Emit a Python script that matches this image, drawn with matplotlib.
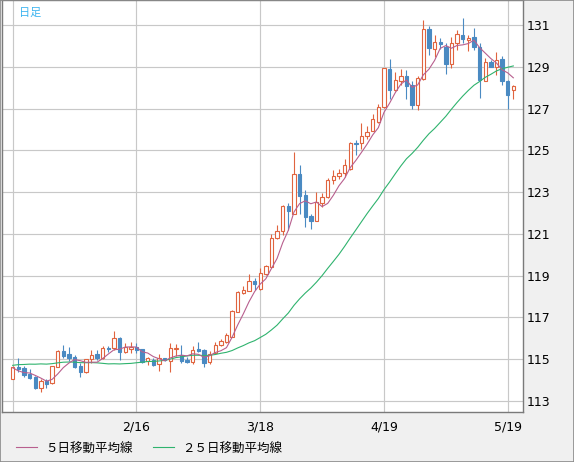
import numpy as np
import pandas as pd
import matplotlib
matplotlib.use("Agg")
import matplotlib.pyplot as plt
from matplotlib.lines import Line2D
from matplotlib.patches import Rectangle

# ---- data (daily candles, 1/17 .. 5/20) ----
opens = [114.07, 114.64, 114.56, 114.29, 114.16, 113.61, 113.97, 113.84, 114.64, 115.39,
         115.25, 115.09, 114.67, 114.40, 114.99, 115.25, 115.07, 115.55, 115.52, 116.03,
         115.33, 115.49, 115.57, 115.47, 114.91, 114.96, 114.75, 115.06, 114.91, 115.47,
         115.22, 114.98, 114.87, 115.47, 115.43, 114.87, 115.30, 115.66, 115.82, 116.08,
         117.28, 118.16, 118.29, 118.74, 118.36, 119.10, 119.44, 120.79, 121.16, 122.33,
         121.98, 123.89, 122.86, 121.86, 121.63, 122.49, 122.75, 123.57, 123.76, 123.92,
         124.13, 125.38, 125.37, 125.69, 125.93, 126.36, 127.08, 128.90, 127.91, 128.35,
         128.55, 128.15, 127.19, 128.42, 130.81, 129.87, 130.19, 129.95, 129.14, 130.17,
         130.54, 130.30, 130.46, 129.95, 128.35, 129.26, 129.02, 129.37, 128.34, 127.91]
highs = [114.66, 115.06, 114.67, 114.53, 114.18, 114.07, 114.07, 114.69, 115.44, 115.68,
         115.60, 115.20, 114.83, 115.01, 115.44, 115.44, 115.63, 115.63, 116.35, 116.05,
         115.79, 115.84, 115.76, 115.49, 115.12, 115.04, 115.25, 115.08, 115.79, 115.75,
         115.70, 115.11, 115.63, 115.80, 115.51, 115.40, 115.82, 115.95, 116.24, 117.36,
         118.26, 118.49, 119.10, 118.89, 119.37, 119.52, 120.98, 121.43, 122.38, 122.46,
         124.95, 124.29, 123.10, 121.98, 123.02, 122.94, 123.68, 124.05, 124.13, 124.60,
         125.40, 125.50, 126.33, 126.17, 126.73, 127.24, 128.96, 129.37, 128.78, 128.90,
         128.86, 128.31, 128.55, 131.25, 130.97, 130.54, 130.38, 130.14, 130.46, 130.78,
         131.33, 130.54, 130.86, 130.14, 129.42, 129.34, 129.74, 129.53, 128.36, 128.15]
lows = [114.04, 114.40, 114.13, 114.07, 113.59, 113.45, 113.64, 113.82, 114.62, 115.07,
        114.91, 114.56, 114.16, 114.32, 114.80, 114.96, 114.99, 115.36, 115.44, 114.96,
        115.28, 115.28, 115.28, 114.80, 114.72, 114.69, 114.45, 114.93, 114.40, 115.15,
        114.80, 114.84, 114.77, 115.34, 114.63, 114.79, 115.27, 115.64, 115.79, 116.04,
        117.25, 118.12, 118.25, 118.33, 118.33, 119.05, 119.41, 120.75, 120.95, 121.19,
        121.95, 121.95, 121.32, 121.22, 121.61, 122.30, 122.70, 123.41, 123.65, 123.73,
        124.08, 124.76, 125.05, 125.53, 125.91, 126.33, 127.03, 127.46, 127.83, 128.15,
        127.46, 127.00, 126.95, 128.39, 129.58, 129.50, 129.85, 128.66, 128.94, 129.82,
        130.14, 129.79, 129.82, 127.51, 128.31, 128.99, 128.63, 128.15, 127.00, 127.46]
closes = [114.61, 114.55, 114.24, 114.10, 113.62, 113.97, 113.81, 114.66, 115.39, 115.15,
          115.07, 114.64, 114.40, 114.99, 115.18, 115.07, 115.52, 115.48, 116.00, 115.33,
          115.57, 115.57, 115.44, 114.86, 115.04, 114.72, 115.04, 114.96, 115.52, 115.52,
          114.92, 114.88, 115.45, 115.40, 114.82, 115.27, 115.66, 115.87, 116.14, 117.31,
          118.21, 118.33, 118.74, 118.58, 119.13, 119.48, 120.79, 121.16, 122.33, 122.11,
          123.86, 122.81, 121.83, 121.63, 122.54, 122.75, 123.57, 123.76, 123.92, 124.29,
          125.35, 125.29, 125.69, 125.90, 126.49, 127.09, 128.94, 127.91, 128.39, 128.55,
          128.10, 127.19, 128.47, 130.81, 129.90, 130.19, 130.09, 129.14, 130.17, 130.57,
          130.33, 130.41, 129.95, 128.39, 129.26, 129.02, 129.34, 128.31, 127.67, 128.07]
# closes of the 24 sessions before the first visible candle (needed for the moving averages)
prior_closes = [113.73, 114.04, 113.70, 113.70, 113.60, 114.08, 114.12, 114.41, 114.37, 114.84,
                114.82, 114.98, 115.07, 115.08, 115.33, 116.12, 116.13, 115.83, 115.56, 115.20,
                115.29, 114.66, 114.19, 114.20]

tick_index = [0, 22, 44, 66, 88]
tick_labels = ["", "2/16", "3/18", "4/19", "5/19"]
y_ticks = [113, 115, 117, 119, 121, 123, 125, 127, 129, 131]

# ---- derived ----
o = np.array(opens); h = np.array(highs); l = np.array(lows); c = np.array(closes)
n = len(c)
x = np.arange(n)
allc = pd.Series(prior_closes + closes)
ma5 = allc.rolling(5).mean().values[len(prior_closes):]
ma25 = allc.rolling(25).mean().values[len(prior_closes):]

UP = "#e0643f"
DOWN = "#4a8ac2"
MA5C = "#b85f8e"
MA25C = "#2fb36e"
BG = "#f0f0f0"
GRID = "#c8c8c8"
CJK = ["Noto Sans CJK JP", "DejaVu Sans"]

W, H = 574, 462
fig = plt.figure(figsize=(W / 100, H / 100), dpi=100, facecolor=BG)
ax = fig.add_axes([2 / W, 50 / H, 521 / W, 412 / H])
ax.set_facecolor("white")

ax.set_xlim(-1.9, n - 1 + 1.72)
ax.set_ylim(112.47, 132.21)

ax.set_yticks(y_ticks)
ax.set_yticklabels([str(v) for v in y_ticks])
ax.set_xticks(tick_index)
ax.set_xticklabels(tick_labels)
ax.yaxis.tick_right()
ax.tick_params(axis="y", length=0, pad=2.5, labelsize=9, colors="black")
ax.tick_params(axis="x", length=0, pad=6, labelsize=9, colors="black")
ax.grid(True, color=GRID, linewidth=0.85)
ax.set_axisbelow(True)
for s in ax.spines.values():
    s.set_color("#7a7a7a")
    s.set_linewidth(1.0)

up = c >= o
bw = 0.6
# wicks
ax.vlines(x[up], l[up], h[up], color=UP, linewidth=0.8, zorder=2)
ax.vlines(x[~up], l[~up], h[~up], color=DOWN, linewidth=0.8, zorder=2)
# bodies
ax.bar(x[up], c[up] - o[up], bw, bottom=o[up], facecolor="white", edgecolor=UP,
       linewidth=0.8, zorder=3)
ax.bar(x[~up], o[~up] - c[~up], bw, bottom=c[~up], facecolor=DOWN, edgecolor=DOWN,
       linewidth=0.8, zorder=3)

ax.plot(x, ma25, color=MA25C, linewidth=0.8, zorder=4)
ax.plot(x, ma5, color=MA5C, linewidth=0.8, zorder=5)

ax.text(17 / 521, 1 - 13 / 412, "日足", transform=ax.transAxes, color="#3cb4f0",
        fontsize=8, family=CJK, ha="left", va="center")

# legend (manual)
ly = 1 - 447.3 / H
ty = 1 - 449 / H
fig.add_artist(Line2D([16 / W, 37 / W], [ly, ly], color=MA5C, linewidth=0.8))
fig.text(45 / W, ty, "５日移動平均線", family=CJK, fontsize=9, ha="left", va="center")
fig.add_artist(Line2D([153 / W, 174 / W], [ly, ly], color=MA25C, linewidth=0.8))
fig.text(182 / W, ty, "２５日移動平均線", family=CJK, fontsize=9, ha="left", va="center")

fig.add_artist(Rectangle((0, 0), 1, 1, transform=fig.transFigure, fill=False,
                         edgecolor="#8a8a8a", linewidth=1.2))

fig.savefig("out.png", dpi=100, facecolor=BG)
